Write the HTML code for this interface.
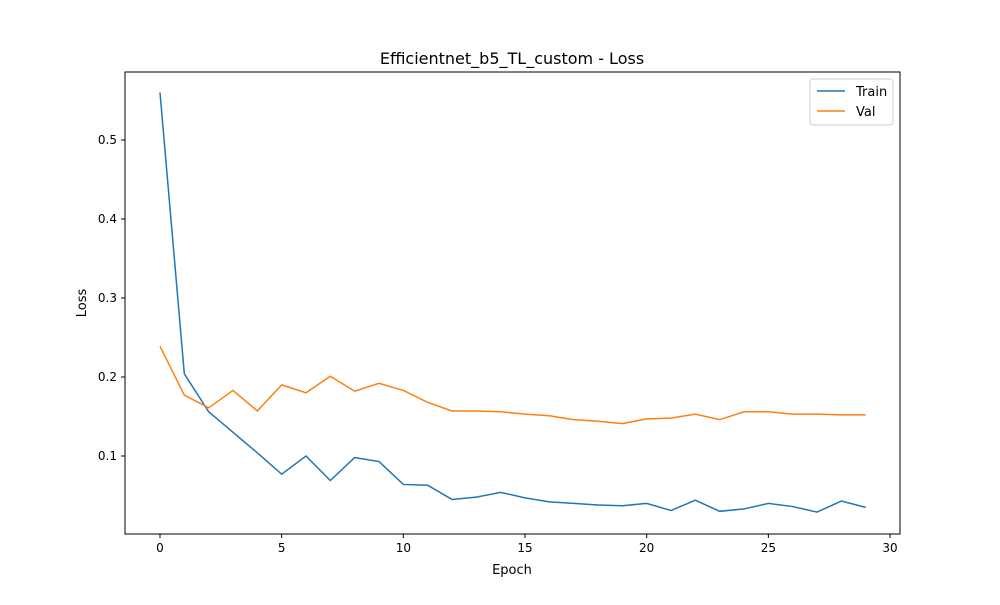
<!DOCTYPE html>
<html><head><meta charset="utf-8"><style>
body{margin:0;background:#fff;font-family:"Liberation Sans","DejaVu Sans",sans-serif;}
svg text{font-family:"DejaVu Sans","Liberation Sans",sans-serif;}
</style></head><body>
<svg id="chart" width="1000" height="600" xmlns="http://www.w3.org/2000/svg">
<rect width="1000" height="600" fill="#fff"/>
<text x="512" y="64" text-anchor="middle" font-size="16">Efficientnet_b5_TL_custom - Loss</text>
<g id="axes"></g>
<g id="series"></g>
<text x="512" y="574" text-anchor="middle" font-size="13">Epoch</text>
<text transform="translate(86,303) rotate(-90)" text-anchor="middle" font-size="13">Loss</text>
<g>
<rect x="810" y="79" width="83" height="46" fill="#fff" stroke="#ccc" rx="3"/>
<line x1="817" y1="91" x2="845" y2="91" stroke="#1f77b4" stroke-width="1.5"/>
<text x="856" y="96" font-size="13">Train</text>
<line x1="817" y1="111" x2="845" y2="111" stroke="#ff7f0e" stroke-width="1.5"/>
<text x="856" y="116" font-size="13">Val</text>
</g>
</svg>
<script>
const epochs = [...Array(30).keys()];
const trainLoss = [0.56,0.204,0.156,0.130,0.104,0.077,0.100,0.069,0.098,0.093,0.064,0.063,0.045,0.048,0.054,0.047,0.042,0.040,0.038,0.037,0.040,0.031,0.044,0.030,0.033,0.040,0.036,0.029,0.043,0.035];
const valLoss = [0.239,0.177,0.161,0.183,0.157,0.190,0.180,0.201,0.182,0.192,0.183,0.168,0.157,0.157,0.156,0.153,0.151,0.146,0.144,0.141,0.147,0.148,0.153,0.146,0.156,0.156,0.153,0.153,0.152,0.152];
const xTicks = [0,5,10,15,20,25,30];
const yTicks = [0.1,0.2,0.3,0.4,0.5];
const L=125,R=900,T=72,B=534;
const xs = v => 160 + v*(890-160)/30;
const ys = v => 535 - v*790;
const NS="http://www.w3.org/2000/svg";
const ax=document.getElementById('axes'), se=document.getElementById('series');
function mk(tag,attrs,parent){const e=document.createElementNS(NS,tag);for(const k in attrs)e.setAttribute(k,attrs[k]);parent.appendChild(e);return e;}
const frame=mk('rect',{x:L,y:T,width:R-L,height:B-T,fill:'none',stroke:'#000','stroke-width':1},ax);


xTicks.forEach(t=>{const x=xs(t);
 mk('line',{x1:x,y1:B,x2:x,y2:B+4,stroke:'#000'},ax);
 const tx=mk('text',{x:x,y:B+18,'text-anchor':'middle','font-size':12},ax);tx.textContent=t;
 
 });
yTicks.forEach(t=>{const y=ys(t);
 mk('line',{x1:L-4,y1:y,x2:L,y2:y,stroke:'#000'},ax);
 const tx=mk('text',{x:L-8,y:y+4,'text-anchor':'end','font-size':12},ax);tx.textContent=t.toFixed(1);
 
 });
function line(data,color,name){const p=mk('polyline',{points:data.map((v,i)=>xs(epochs[i])+','+ys(v)).join(' '),fill:'none',stroke:color,'stroke-width':1.5},se);
 
 }
line(trainLoss,'#1f77b4','train-line');
line(valLoss,'#ff7f0e','val-line');
</script>
</body></html>
